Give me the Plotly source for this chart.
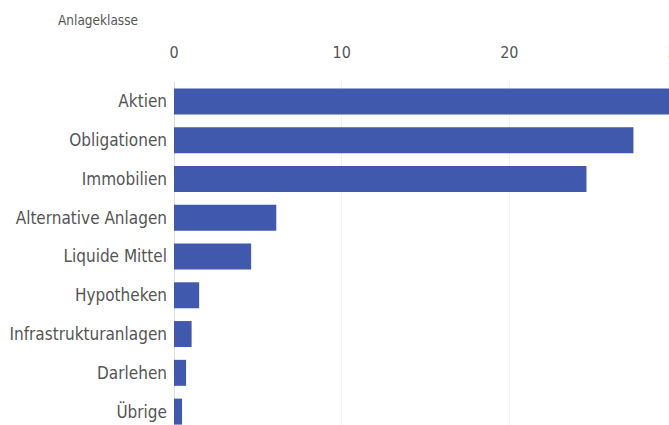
import plotly.graph_objects as go

categories = ["Aktien", "Obligationen", "Immobilien", "Alternative Anlagen", "Liquide Mittel",
              "Hypotheken", "Infrastrukturanlagen", "Darlehen", "Übrige"]
values = [30.0, 27.4, 24.6, 6.1, 4.6, 1.5, 1.05, 0.72, 0.48]
tick_vals = [0, 10, 20, 30]
axis_title = "Anlageklasse"

FONT = "Liberation Sans Narrow, DejaVu Sans Condensed, sans-serif"

fig = go.Figure(go.Bar(
    x=values, y=categories, orientation="h",
    marker=dict(color="#4059AD", line=dict(width=0)),
))

fig.update_layout(
    width=700, height=440,
    margin=dict(l=174, r=0, t=82, b=9),
    plot_bgcolor="white", paper_bgcolor="white",
    bargap=0.33,
    showlegend=False,
    font=dict(family=FONT, size=17, color="#555555"),
    annotations=[dict(text=axis_title, xref="paper", yref="paper", x=-0.225, y=1.0,
                      yshift=62, xanchor="left", yanchor="middle", showarrow=False,
                      font=dict(family=FONT, size=13.5, color="#555555"))],
)
fig.update_xaxes(
    side="top", range=[0, 31.37], tickvals=tick_vals,
    showgrid=True, gridcolor="#f2f2f2", gridwidth=1,
    zeroline=True, zerolinecolor="#dddddd", zerolinewidth=1,
    showline=False, ticks="", ticklabelstandoff=20,
    tickfont=dict(size=16),
)
fig.update_yaxes(
    categoryorder="array", categoryarray=categories, autorange="reversed",
    showgrid=False, zeroline=False, showline=False, ticks="", ticklabelstandoff=6,
)

fig.write_html("out.html", post_script="document.body.style.overflow='hidden';document.body.style.margin='0';")
